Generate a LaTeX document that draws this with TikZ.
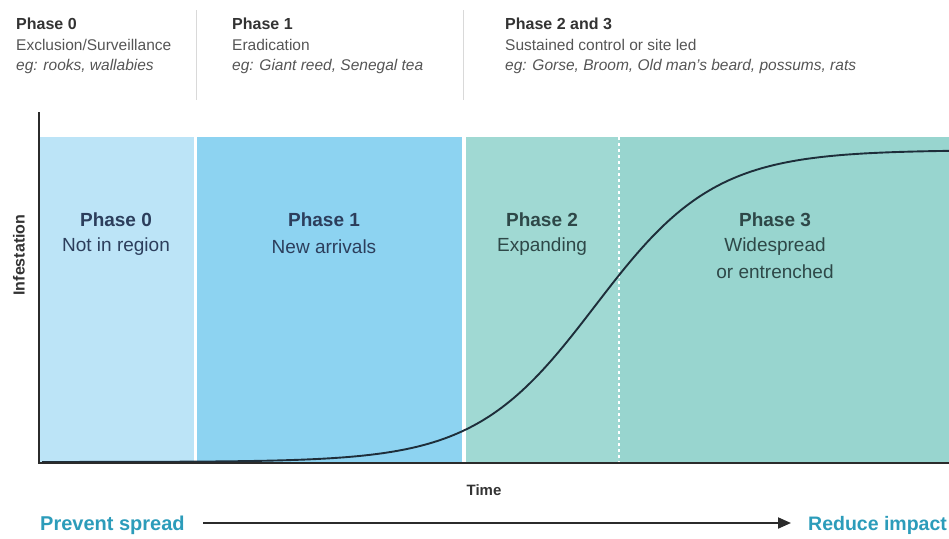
\documentclass[tikz,border=0pt]{standalone}
\usepackage{fontspec}
\setmainfont{Liberation Sans}
\usetikzlibrary{arrows.meta}
\definecolor{pzero}{HTML}{BCE4F7}
\definecolor{pone}{HTML}{8DD3F1}
\definecolor{ptwo}{HTML}{A0D9D3}
\definecolor{pthree}{HTML}{98D5CF}
\definecolor{bluetxt}{HTML}{2C3E5C}
\definecolor{tealtxt}{HTML}{2E4848}
\definecolor{accent}{HTML}{2C9CBA}
\definecolor{hdrgray}{HTML}{333333}
\definecolor{subgray}{HTML}{555555}
\definecolor{axisc}{HTML}{2B2B2B}
\definecolor{curvec}{HTML}{1E2E3A}
\tikzset{
  hdr/.style={anchor=base west, inner sep=0, font=\fontsize{16}{18}\selectfont\bfseries, text=hdrgray},
  sub/.style={anchor=base west, inner sep=0, font=\fontsize{15.5}{18}\selectfont, text=subgray},
  ex/.style={anchor=base west, inner sep=0, font=\fontsize{15.5}{18}\selectfont\itshape, text=subgray},
  plab/.style={inner sep=0, font=\fontsize{19}{22}\selectfont\bfseries},
  psub/.style={inner sep=0, font=\fontsize{19}{22}\selectfont},
  sep/.style={draw=black!15, line width=0.8},
  axisline/.style={draw=axisc, line width=2},
  goal/.style={anchor=base west, inner sep=0, font=\fontsize{20}{22}\selectfont\bfseries, text=accent},
}
\begin{document}
\begin{tikzpicture}[x=1pt,y=-1pt]
\useasboundingbox (0,0) rectangle (949,538);
\clip (0,0) rectangle (949,538);
% header texts
\node[hdr] (h0) at (16,29) {Phase 0};
\node[sub] (h0a) at (16,50) {Exclusion/Surveillance};
\node[ex]  (h0b) at (16,70) {eg: rooks, wallabies};
\node[hdr] (h1) at (232,29) {Phase 1};
\node[sub] (h1a) at (232,50) {Eradication};
\node[ex]  (h1b) at (232,70) {eg: Giant reed, Senegal tea};
\node[hdr] (h2) at (505,29) {Phase 2 and 3};
\node[sub] (h2a) at (505,50) {Sustained control or site led};
\node[ex]  (h2b) at (505,70) {eg: Gorse, Broom, Old man's beard, possums, rats};
\draw[sep] (196,10) -- (196,100);
\draw[sep] (463,10) -- (463,100);
% phase panels
\fill[pzero] (40,137) rectangle (194,462);
\fill[pone] (197,137) rectangle (462,462);
\fill[ptwo] (466,137) rectangle (619,462);
\fill[pthree] (619,137) rectangle (949,462);
\draw[white, line width=1.5, dash pattern=on 3 off 3] (619,137) -- (619,462);
% panel labels
\node[plab, text=bluetxt] (l0) at (116,220) {Phase 0};
\node[psub, text=bluetxt] (l0s) at (116,247) {Not in region};
\node[plab, text=bluetxt] (l1) at (324,220) {Phase 1};
\node[psub, text=bluetxt] (l1s) at (324,247) {New arrivals};
\node[plab, text=tealtxt] (l2) at (542,220) {Phase 2};
\node[psub, text=tealtxt] (l2s) at (542,247) {Expanding};
\node[plab, text=tealtxt] (l3) at (775,220) {Phase 3};
\node[psub, text=tealtxt] (l3s) at (775,247) {Widespread};
\node[psub, text=tealtxt] (l3t) at (775,272) {or entrenched};
% curve (logistic)
\draw[curvec, line width=1.9, line join=round] plot[domain=42:949, samples=220]
  (\x, {462-312/(1+exp(-(\x-595)/60))});
% axes
\coordinate (ytop) at (39,113);
\coordinate (orig) at (39,463);
\coordinate (xend) at (949,463);
\draw[axisline, line cap=rect] (ytop) -- (orig) -- (xend);
\node[inner sep=0, rotate=90, font=\fontsize{16}{18}\selectfont\bfseries, text=hdrgray] (ylab) at (19,255) {Infestation};
\node[inner sep=0, font=\fontsize{15}{18}\selectfont\bfseries, text=hdrgray] (xlab) at (484,490) {Time};
% bottom arrow
\node[goal] (prev) at (40,530) {Prevent spread};
\node[goal, font=\fontsize{19.5}{22}\selectfont\bfseries] (red) at (808,530) {Reduce impact};
\coordinate (a1) at (203,523);
\coordinate (a2) at (791,523);
\draw[axisc, line width=2, -{Triangle[length=13,width=11]}] (a1) -- (a2);
\end{tikzpicture}
\end{document}
